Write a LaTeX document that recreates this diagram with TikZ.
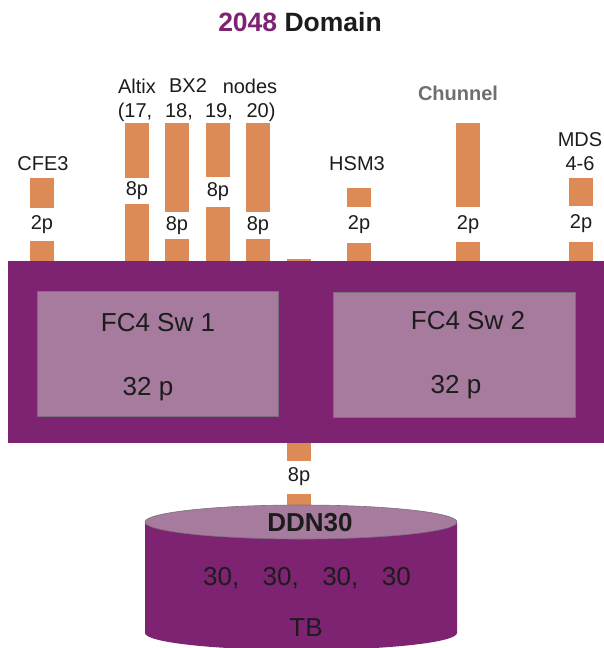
\documentclass[tikz,border=0pt]{standalone}
\usepackage{fontspec}
\setsansfont{Liberation Sans}
\usepackage{xcolor}
\usepackage{tikz}
\usetikzlibrary{positioning}
\definecolor{plum}{HTML}{7E2371}
\definecolor{softplum}{HTML}{A67B9E}
\definecolor{port}{HTML}{DC8A56}
\definecolor{ink}{HTML}{1C1C1C}
\definecolor{muted}{HTML}{6E6E6E}
\definecolor{edge}{HTML}{7C7080}
\tikzset{
  font=\sffamily,
  chassis/.style={fill=plum, draw=none},
  switchbox/.style={fill=softplum, draw=edge, line width=0.8pt},
  portbar/.style={fill=port, draw=none},
  hostlabel/.style={text=ink, font=\sffamily\fontsize{20}{22}\selectfont, inner sep=0pt},
  portlabel/.style={text=ink, font=\sffamily\fontsize{20}{22}\selectfont, inner sep=0pt},
  swlabel/.style={text=ink, font=\sffamily\fontsize{26}{28}\selectfont, inner sep=0pt},
  disklabel/.style={text=ink, font=\sffamily\fontsize{26}{28}\selectfont, inner sep=0pt},
  titlelabel/.style={text=ink, font=\sffamily\bfseries\fontsize{26.5}{28}\selectfont, inner sep=0pt}
}

\begin{document}
\begin{tikzpicture}[x=1pt, y=-1pt]
  \useasboundingbox (0,0) rectangle (603,648);

  % Title
  \node[titlelabel] (title) at (300,22) {\textcolor{plum}{2048} Domain};

  % Host links into the switch chassis
  \foreach \xl/\ta/\tb/\tc/\lab [count=\i] in {
      30/178/208/241/2p, 125/123/178/204/8p, 165/123/212/239/8p,
      206/123/177/207/8p, 246/123/212/239/8p, 347/188/207/243/2p,
      456/123/207/242/2p, 569/178/206/242/2p} {
    \fill[portbar] (\xl,\ta) rectangle (\xl+24,\tb);
    \fill[portbar] (\xl,\tc) rectangle (\xl+24,261);
    \node[portlabel] (p\i) at (\xl+12,{(\tb+\tc)/2}) {\lab};
  }

  % Storage link (runs behind the chassis)
  \fill[portbar] (287,259) rectangle (311,461);
  \fill[portbar] (287,494) rectangle (311,512);
  \node[portlabel] (pddn) at (299,477) {8p};

  % Host names
  \node[hostlabel] (cfe) at (43,164) {CFE3};
  \node[hostlabel] (altix) at (137,86) {Altix};
  \node[hostlabel] (bx) at (188,86) {BX2};
  \node[hostlabel] (nodes) at (250,86) {nodes};
  \node[hostlabel] (n17) at (135,112) {(17,};
  \node[hostlabel] (n18) at (179,112) {18,};
  \node[hostlabel] (n19) at (219,112) {19,};
  \node[hostlabel] (n20) at (261,112) {20)};
  \node[hostlabel] (hsm) at (357,164) {HSM3};
  \node[hostlabel, text=muted, font=\sffamily\bfseries\fontsize{20}{22}\selectfont] (chunnel) at (458,93) {Chunnel};
  \node[hostlabel] (mds) at (580,140) {MDS};
  \node[hostlabel] (mdsn) at (580,164) {4-6};

  % Switch chassis
  \fill[chassis] (8,261) rectangle (610,443);
  \draw[switchbox] (37,291) rectangle (278,416);
  \draw[switchbox] (333,292) rectangle (575,417);
  \node[swlabel] (sw1) at (158,323) {FC4 Sw 1};
  \node[swlabel] (sw1p) at (148,389) {32 p};
  \node[swlabel] (sw2) at (468,321) {FC4 Sw 2};
  \node[swlabel] (sw2p) at (456,387) {32 p};

  % DDN storage cylinder
  \fill[chassis] (145,522) -- (145,633) arc[start angle=180, end angle=0, x radius=156, y radius=17] -- (457,522) -- cycle;
  \draw[switchbox, line width=0.6pt] (301,522) ellipse[x radius=156, y radius=17];
  \node[disklabel, font=\sffamily\bfseries\fontsize{26}{28}\selectfont] (ddn) at (310,523) {DDN30};
  \node[disklabel] (cap) at (307,578) {30,\hspace{0.9em}30,\hspace{0.9em}30,\hspace{0.9em}30};
  \node[disklabel] (tb) at (306,628) {TB};
\end{tikzpicture}
\end{document}
